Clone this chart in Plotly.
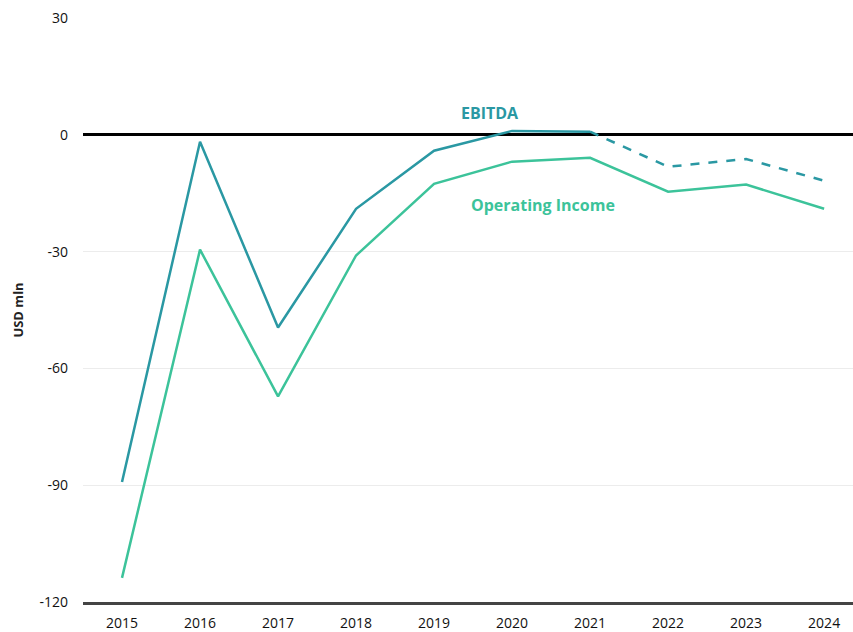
import plotly.graph_objects as go

years = [2015, 2016, 2017, 2018, 2019, 2020, 2021, 2022, 2023, 2024]
ebitda = [-89.2, -1.8, -49.5, -19.0, -4.1, 1.0, 0.8, -8.2, -6.2, -11.8]
op_income = [-113.8, -29.5, -67.2, -31.0, -12.6, -6.9, -5.9, -14.6, -12.8, -19.0]
y_ticks = [-120, -90, -60, -30, 0, 30]
y_labels = ["-120", "-90", "-60", "-30", "0", "30"]

c_ebitda = "#2a98a3"
c_op = "#3cc39a"

fig = go.Figure()
# EBITDA actual (solid) through 2021
fig.add_trace(go.Scatter(x=years[:7], y=ebitda[:7], mode="lines",
                         line=dict(color=c_ebitda, width=2.5), showlegend=False))
# EBITDA forecast (dashed) from 2021
fig.add_trace(go.Scatter(x=years[6:], y=ebitda[6:], mode="lines",
                         line=dict(color=c_ebitda, width=2.5, dash="dash"), showlegend=False))
fig.add_trace(go.Scatter(x=years, y=op_income, mode="lines",
                         line=dict(color=c_op, width=2.5), showlegend=False))

fig.add_annotation(x=2019.72, y=0, yshift=22, text="<b>EBITDA</b>", showarrow=False,
                   xanchor="center", font=dict(color=c_ebitda, size=16, family="Open Sans"))
fig.add_annotation(x=2020.4, y=-18, text="<b>Operating Income</b>", showarrow=False,
                   xanchor="center", font=dict(color=c_op, size=16, family="Open Sans"))

fig.update_layout(
    width=853, height=632,
    margin=dict(l=83, r=0, t=18, b=30),
    plot_bgcolor="white", paper_bgcolor="white",
    font=dict(family="Open Sans", color="#222222", size=13),
)
fig.update_xaxes(range=[2014.5, 2024.37], tickvals=years, ticktext=[str(y) for y in years],
                 showgrid=False, zeroline=False, showline=True, linecolor="#444444", linewidth=3,
                 tickfont=dict(size=14, family="Open Sans", color="#111111"), ticks="",
                 ticklabelstandoff=6)
fig.update_yaxes(range=[-120, 30], tickvals=y_ticks, ticktext=y_labels, showgrid=True,
                 gridcolor="#ececec", zeroline=True, zerolinecolor="black", zerolinewidth=3,
                 showline=False, ticks="", ticklabelstandoff=14,
                 tickfont=dict(size=14, family="Open Sans", color="#111111"),
                 title=dict(text="<b>USD mln</b>", font=dict(size=13, family="Open Sans"), standoff=12))

fig.write_html("out.html")
